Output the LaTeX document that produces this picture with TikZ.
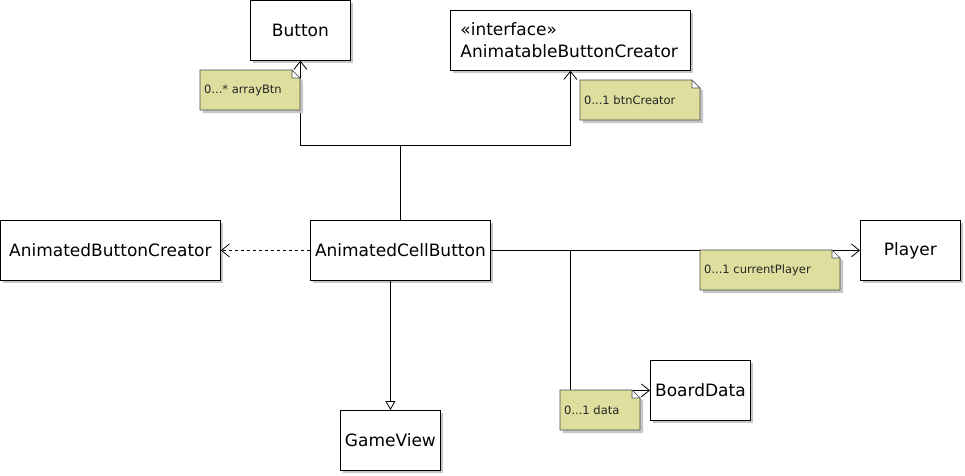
\documentclass[tikz,border=0pt]{standalone}
\usepackage{fontspec}
\setmainfont{DejaVu Sans}
\usetikzlibrary{arrows.meta,shadows}
\tikzset{
  cls/.style={draw=black, line width=0.8pt, fill=white, inner sep=0pt, anchor=north west,
    font=\fontsize{17}{22}\selectfont,
    drop shadow={shadow xshift=3pt, shadow yshift=-3pt, fill=black!22, opacity=1}},
  conn/.style={draw=black, line width=0.8pt},
  assoc/.style={conn, -{Straight Barb[length=8pt,width=13pt,line width=0.8pt]}},
  depend/.style={conn, dash pattern=on 3.5pt off 2.5pt, -{Straight Barb[length=8pt,width=13pt,line width=0.8pt]}},
  gener/.style={conn, -{Triangle[open,length=9pt,width=10pt,line width=0.8pt,fill=white]}},
  notefill/.style={fill={rgb,255:red,222;green,222;blue,158}, draw=black!70, line width=0.6pt},
  noteshadow/.style={fill=black!22},
  notetext/.style={inner sep=0pt, font=\fontsize{11.5}{13}\selectfont, text=black!85}
}
\newcommand\umlnote[6]{%
  \fill[noteshadow] (#2+3,#3+3) -- (#2+#4-5,#3+3) -- (#2+#4+3,#3+11) -- (#2+#4+3,#3+#5+3) -- (#2+3,#3+#5+3) -- cycle;
  \path[notefill] (#2,#3) -- (#2+#4-8,#3) -- (#2+#4,#3+8) -- (#2+#4,#3+#5) -- (#2,#3+#5) -- cycle;
  \path[fill=white, draw=black!70, line width=0.6pt] (#2+#4-8,#3) -- (#2+#4-8,#3+8) -- (#2+#4,#3+8) -- cycle;
  \node[notetext, anchor=west] (#1) at (#2+4,#3+#5/2) {#6};
}
\begin{document}
\begin{tikzpicture}[x=1pt,y=-1pt]
\useasboundingbox[fill=white] (0,0) rectangle (965,475);
% classes
\node[cls, minimum width=100pt, minimum height=60pt] (btn) at (250,0) {Button};
\node[cls, minimum width=240pt, minimum height=60pt, align=left, text width=220pt] (iface) at (450,10) {«interface»\\AnimatableButtonCreator};
\node[cls, minimum width=220pt, minimum height=60pt] (abc) at (0,220) {AnimatedButtonCreator};
\node[cls, minimum width=180pt, minimum height=60pt] (acb) at (310,220) {AnimatedCellButton};
\node[cls, minimum width=100pt, minimum height=60pt] (player) at (860,220) {Player};
\node[cls, minimum width=100pt, minimum height=60pt] (gv) at (340,410) {GameView};
\node[cls, minimum width=100pt, minimum height=60pt] (bd) at (650,360) {BoardData};
% junctions
\coordinate (jtop) at (acb.north |- 0,145);
\coordinate (jright) at (570,250);
% connectors
\draw[conn] (acb.north) -- (jtop);
\draw[assoc] (jtop) -| (btn.south);
\draw[assoc] (jtop) -| (iface.south);
\draw[depend] (acb.west) -- (abc.east);
\draw[assoc] (acb.east) -- (player.west);
\draw[assoc] (jright) |- (bd.west);
\draw[gener] (acb.south -| gv.north) -- (gv.north);
% notes
\umlnote{n1}{200}{70}{100}{40}{0...* arrayBtn}
\umlnote{n2}{580}{80}{120}{40}{0...1 btnCreator}
\umlnote{n3}{700}{250}{140}{40}{0...1 currentPlayer}
\umlnote{n4}{560}{390}{80}{40}{0...1 data}
\end{tikzpicture}
\end{document}
